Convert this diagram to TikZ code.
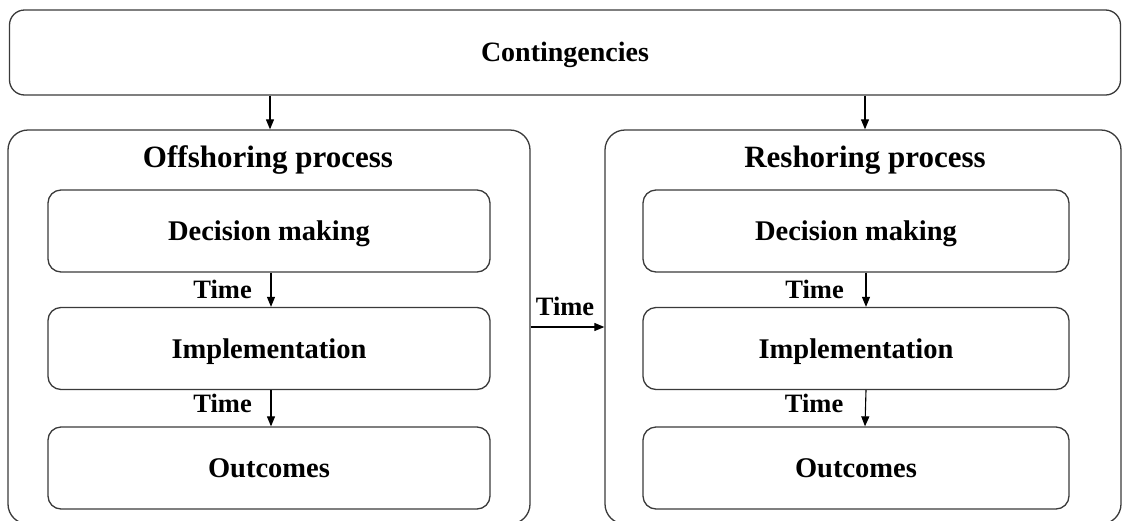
\documentclass[tikz,border=0pt]{standalone}
\usepackage{fontspec}
\setmainfont{Liberation Serif}
\usetikzlibrary{arrows.meta,calc}

\definecolor{edge}{HTML}{3A3A3A}

% text height = cap height, depth 0: the capitals sit centred on the node
\tikzset{
  panel/.style={draw=edge, line width=1.3pt, rounded corners=20pt, inner sep=0pt},
  stagebox/.style={draw=edge, line width=1.3pt, rounded corners=13pt, inner sep=0pt,
    minimum width=442pt, minimum height=82pt, text height=19pt, text depth=0pt,
    font=\fontsize{28.5}{32}\selectfont\bfseries},
  headtext/.style={inner sep=0pt, text height=20.5pt, text depth=0pt,
    font=\fontsize{31}{35}\selectfont\bfseries},
  timelabel/.style={inner sep=0pt, text height=17.5pt, text depth=0pt,
    font=\fontsize{26.5}{30}\selectfont\bfseries},
  flow/.style={draw=black, line width=1.1pt, -{Triangle[length=10pt,width=8pt]}},
}

\begin{document}
\begin{tikzpicture}[x=1pt, y=-1pt]
  \useasboundingbox (0,0) rectangle (1122,520);

  % top band
  \node[panel, rounded corners=15pt, minimum width=1111pt, minimum height=85pt,
        text height=18.5pt, text depth=0pt,
        font=\fontsize{28}{32}\selectfont\bfseries] (cont) at (565,52.5) {Contingencies};

  % the two process panels (they run past the lower edge)
  \node[panel, minimum width=522pt, minimum height=394pt] (off) at (269,327) {};
  \node[panel, minimum width=516pt, minimum height=394pt] (res) at (863,327) {};

  \node[headtext] (offtitle) at (268,157.5) {Offshoring process};
  \node[headtext] (restitle) at (865,157.5) {Reshoring process};

  % offshoring stages
  \node[stagebox] (odec) at (269,231)   {Decision making};
  \node[stagebox] (oimp) at (269,348.5) {Implementation};
  \node[stagebox] (oout) at (269,468)   {Outcomes};

  % reshoring stages
  \node[stagebox, minimum width=426pt] (rdec) at (856,231)   {Decision making};
  \node[stagebox, minimum width=426pt] (rimp) at (856,348.5) {Implementation};
  \node[stagebox, minimum width=426pt] (rout) at (856,468)   {Outcomes};

  % contingencies feed both processes
  \draw[flow] ([xshift=1pt]cont.south -| odec.north) -- ([xshift=1pt]off.north -| odec.north);
  \draw[flow] (cont.south -| restitle.center) -- (res.north -| restitle.center);

  % stage transitions, offshoring
  \draw[flow] ([xshift=2pt]odec.south) -- ([xshift=2pt]oimp.north);
  \draw[flow] ([xshift=2pt]oimp.south) -- ([xshift=2pt]oout.north);
  \node[timelabel, anchor=east] (ot1) at ($([xshift=2pt]odec.south)!0.5!([xshift=2pt]oimp.north)+(-19,0)$) {Time};
  \node[timelabel, anchor=east] (ot2) at ($([xshift=2pt]oimp.south)!0.5!([xshift=2pt]oout.north)+(-19,-5)$) {Time};

  % stage transitions, reshoring
  \draw[flow] ([xshift=10pt]rdec.south) -- ([xshift=10pt]rimp.north);
  \draw[flow] ([xshift=10pt]rimp.south) -- ([xshift=9pt]rout.north);
  \node[timelabel, anchor=east] (rt1) at ($([xshift=10pt]rdec.south)!0.5!([xshift=10pt]rimp.north)+(-22,0)$) {Time};
  \node[timelabel, anchor=east] (rt2) at ($([xshift=10pt]rimp.south)!0.5!([xshift=9pt]rout.north)+(-22,-5)$) {Time};

  % offshoring leads to reshoring
  \coordinate (mid) at (0,327);
  \draw[flow] (off.east |- mid) -- (res.west |- mid);
  \node[timelabel] (mt) at (565,306.5) {Time};
\end{tikzpicture}
\end{document}
